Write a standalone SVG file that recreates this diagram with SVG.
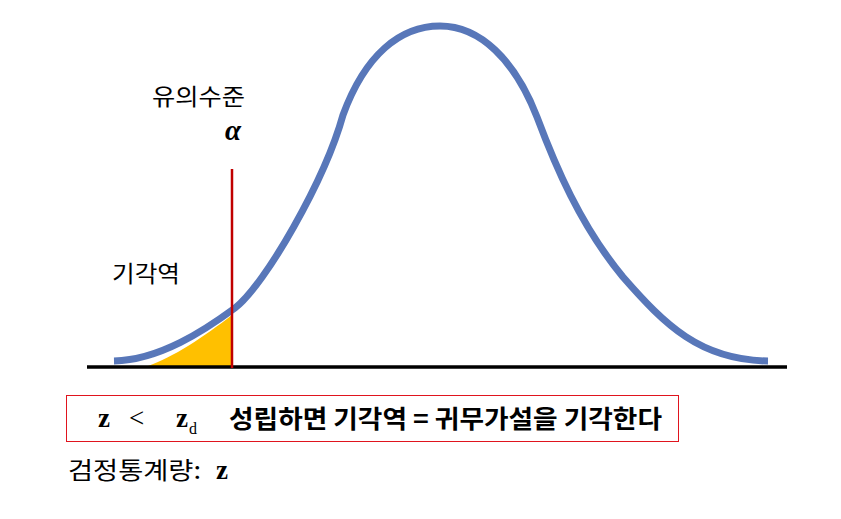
<svg xmlns="http://www.w3.org/2000/svg" width="841" height="519" viewBox="0 0 841 519">
<style>
.kr{font-family:"Noto Sans CJK KR","Noto Sans",sans-serif;fill:#000}
.krb{font-family:"Noto Sans CJK KR","Noto Sans",sans-serif;font-weight:bold;fill:#000}
.ser{font-family:"Liberation Serif",serif;font-weight:bold;fill:#000}
</style>
<rect width="841" height="519" fill="#fff"/>
<g id="critical-region">
<path d="M148,366 C172,358 205,336 232,315 L232,366 Z" fill="#FFC000"/>
</g>
<g id="curve">
<path d="M114,361 C160,360 205,330 235,308 C265,285 325,180 343,115 C365,55 400,26 440,26 C480,26 515,60 537,117 C555,165 580,225 623,277 C665,325 700,360 768,361" fill="none" stroke="#5877B9" stroke-width="7" stroke-linecap="butt"/>
</g>
<g id="axis">
<line x1="87" y1="367" x2="787" y2="367" stroke="#000" stroke-width="3.5"/>
</g>
<g id="alpha-line">
<line x1="232" y1="169" x2="232" y2="368" stroke="#C00000" stroke-width="2.5"/>
</g>
<g id="labels">
<text class="kr" x="152" y="105" font-size="23" textLength="93" lengthAdjust="spacingAndGlyphs">유의수준</text>
<text x="225" y="140" font-size="29" font-family="Liberation Serif,serif" font-style="italic" font-weight="bold">α</text>
<text class="kr" x="112" y="282" font-size="23" textLength="68" lengthAdjust="spacingAndGlyphs">기각역</text>
</g>
<g id="condition-box">
<rect x="66.5" y="395.5" width="612" height="46" fill="#fff" stroke="#E0141E" stroke-width="1"/>
<text class="ser" x="98" y="427" font-size="27">z</text>
<text x="129" y="427" font-size="27" font-family="Liberation Serif,serif">&lt;</text>
<text class="ser" x="176" y="427" font-size="27">z</text>
<text x="189" y="434" font-size="16" font-family="Liberation Serif,serif">d</text>
<text class="krb" x="229" y="428" font-size="25" textLength="433" lengthAdjust="spacingAndGlyphs">성립하면 기각역 = 귀무가설을 기각한다</text>
</g>
<g id="statistic">
<text class="kr" x="68" y="479" font-size="24" textLength="133" lengthAdjust="spacingAndGlyphs">검정통계량:</text>
<text class="ser" x="216" y="479" font-size="27">z</text>
</g>
</svg>
